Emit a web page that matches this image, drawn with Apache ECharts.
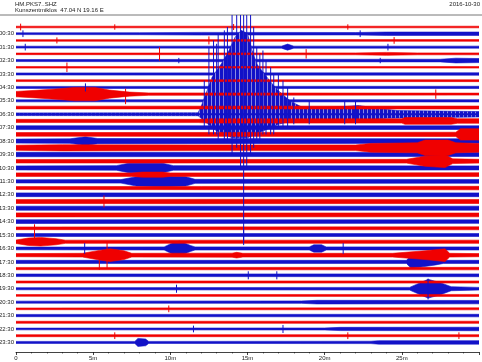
<!DOCTYPE html>
<html><head><meta charset="utf-8">
<script src="https://cdn.jsdelivr.net/npm/echarts@6/dist/echarts.min.js"></script>
<style>html,body{margin:0;padding:0;background:#fff}#c{width:482px;height:362px}</style>
</head><body><div id="c"></div>
<script>
// ---- text ----
const stationCode = 'HM.PKS7..SHZ';
const stationInfo = 'Kunszentmiklos  47.04 N 19.16 E';
const dateLabel = '2016-10-30';
// labels for odd traces (each trace = 30 min, label on the :30 ones)
const hourLabels = ['00:30','01:30','02:30','03:30','04:30','05:30','06:30','07:30','08:30','09:30','10:30','11:30',
  '12:30','13:30','14:30','15:30','16:30','17:30','18:30','19:30','20:30','21:30','22:30','23:30'];
const minuteTicks = [0, 5, 10, 15, 20, 25];
const traceColors = ['#f00000', '#1212c8']; // even, odd

// ---- envelopes: per trace, [minute, half amplitude in trace spacings] ----
const envelopes = [
/*00*/ [[0,0.12],[30,0.12]],
/*01*/ [[0,0.13],[8,0.15],[12,0.2],[22,0.18],[24,0.25],[30,0.25]],
/*02*/ [[0,0.12],[30,0.13]],
/*03*/ [[0,0.14],[17.2,0.15],[17.6,0.45],[18.0,0.15],[30,0.15]],
/*04*/ [[0,0.12],[22,0.14],[24,0.22],[26,0.14],[30,0.14]],
/*05*/ [[0,0.15],[27.5,0.2],[28.5,0.35],[30,0.3]],
/*06*/ [[0,0.12],[30,0.12]],
/*07*/ [[0,0.15],[30,0.18]],
/*08*/ [[0,0.13],[30,0.14]],
/*09*/ [[0,0.15],[30,0.17]],
/*10*/ [[0,0.4],[1.55,0.6],[2.8,0.8],[3.8,1.0],[5.1,1.0],[6.05,0.6],[7.35,0.3],[8.6,0.18],[30,0.15]],
/*11*/ [[0,0.15],[30,0.17]],
/*12*/ [[0,0.2],[30,0.22]],
/*13*/ [[0,0.2],[11.8,0.22],[12.0,1.2],[12.3,3],[12.7,5.5],[13.3,7.5],[13.8,9.5],[14.2,11.5],[14.6,12.5],[15.0,12],[15.3,9.5],[15.6,7.5],[16.0,6.3],[16.5,4.8],[17.0,3.5],[17.8,1.9],[18.5,1.1],[19.5,0.9],[21.0,1.1],[22.2,1.3],[23.4,0.9],[24.7,0.55],[30,0.4]],
/*14*/ [[0,0.24],[11.8,0.24],[12.5,0.32],[25,0.32],[25.2,0.5],[28.2,0.5],[28.6,0.34],[30,0.34]],
/*15*/ [[0,0.28],[30,0.27]],
/*16*/ [[0,0.27],[28.5,0.32],[28.8,0.85],[30,0.85]],
/*17*/ [[0,0.3],[3.5,0.34],[4.5,0.65],[5.3,0.38],[30,0.34]],
/*18*/ [[0,0.38],[3,0.46],[12,0.42],[22,0.42],[23,0.65],[26,0.75],[26.5,1.15],[28,1.15],[28.5,0.75],[30,0.65]],
/*19*/ [[0,0.33],[30,0.3]],
/*20*/ [[0,0.26],[25.3,0.28],[26.5,0.75],[27.8,0.95],[28.3,0.35],[30,0.28]],
/*21*/ [[0,0.3],[6.5,0.34],[7.3,0.7],[9.5,0.7],[10.2,0.34],[30,0.3]],
/*22*/ [[0,0.26],[7.5,0.26],[8.2,0.38],[9.5,0.38],[10,0.26],[30,0.28]],
/*23*/ [[0,0.24],[6.8,0.26],[7.8,0.7],[9.5,0.8],[11,0.7],[11.6,0.3],[30,0.28]],
/*24*/ [[0,0.22],[12,0.24],[30,0.26]],
/*25*/ [[0,0.28],[30,0.28]],
/*26*/ [[0,0.3],[12,0.33],[30,0.3]],
/*27*/ [[0,0.3],[30,0.3]],
/*28*/ [[0,0.3],[30,0.28]],
/*29*/ [[0,0.28],[30,0.26]],
/*30*/ [[0,0.2],[30,0.22]],
/*31*/ [[0,0.22],[30,0.22]],
/*32*/ [[0,0.26],[0.8,0.55],[1.6,0.65],[2.6,0.45],[3.2,0.24],[30,0.24]],
/*33*/ [[0,0.2],[9.6,0.23],[10.2,0.9],[10.6,1.1],[11.3,0.45],[11.6,0.23],[19.0,0.23],[19.3,0.55],[19.8,0.55],[20.1,0.23],[30,0.23]],
/*34*/ [[0,0.23],[4.3,0.28],[5.5,0.75],[6.1,0.95],[7.0,0.65],[7.5,0.28],[14,0.3],[14.3,0.42],[14.7,0.28],[24.4,0.28],[26.5,0.65],[27.8,0.95],[28.1,0.28],[30,0.23]],
/*35*/ [[0,0.23],[25.3,0.23],[25.6,0.95],[26.0,0.85],[27.2,0.45],[27.7,0.23],[30,0.23]],
/*36*/ [[0,0.17],[30,0.19]],
/*37*/ [[0,0.19],[30,0.21]],
/*38*/ [[0,0.15],[30,0.16]],
/*39*/ [[0,0.16],[25.5,0.2],[26.2,0.9],[26.7,1.4],[27.5,0.9],[28.2,0.3],[30,0.2]],
/*40*/ [[0,0.13],[30,0.15]],
/*41*/ [[0,0.15],[18.5,0.18],[19.5,0.27],[30,0.25]],
/*42*/ [[0,0.13],[30,0.15]],
/*43*/ [[0,0.17],[30,0.19]],
/*44*/ [[0,0.15],[30,0.16]],
/*45*/ [[0,0.13],[20,0.15],[21,0.24],[30,0.26]],
/*46*/ [[0,0.15],[30,0.15]],
/*47*/ [[0,0.15],[7.7,0.15],[7.9,0.6],[8.4,0.5],[8.6,0.15],[23,0.18],[23.5,0.26],[30,0.26]]
];
// lower side of the big earthquake trace (06:30)
const quakeTrace = 13;
const quakeLower = [[0,0.2],[11.8,0.22],[12.3,1.2],[13,2.5],[14,3.5],[15,3.5],[16,2.5],[17,1.5],[18,0.9],[20,0.8],[22,1.0],[24,0.6],[30,0.4]];

// isolated spikes: [trace, minute, up, down]
const spikes = [
  [0,0.3,0.5,0.5],[0,6.4,0.4,0.4],[0,14.1,0.45,0.45],[0,21.5,0.4,0.4],
  [1,0.45,0.5,0.5],[1,22.3,0.5,0.5],
  [2,2.65,0.45,0.45],[2,12.5,0.6,0.6],[2,24.5,0.5,0.5],
  [3,0.6,0.5,0.5],[3,24.1,0.5,0.5],
  [4,9.3,1.0,1.0],[4,18.8,0.7,0.7],
  [5,10.55,0.4,0.4],[5,23.6,0.4,0.4],
  [6,3.3,0.7,0.7],
  [9,4.5,0.6,0.6],
  [10,7.1,0.8,1.5],[10,27.2,0.7,0.7],
  [13,12.2,5,2],[13,12.5,10,3],[13,12.8,11,3],[13,13.0,10.5,3],[13,13.1,12,4],[13,13.5,12.5,4],
  [13,13.7,13,4],[13,14.0,16,6],[13,14.3,16,5],[13,14.55,16,8],[13,14.75,16,19.5],[13,14.95,16,8],
  [13,15.2,16,6],[13,15.4,13,5],[13,15.6,10,4],[13,15.8,9,4],[13,16.0,9.5,3],[13,16.2,8,3],
  [13,16.5,7,3],[13,16.7,6,3],[13,17.0,6,2],[13,17.3,5,2],[13,17.6,4,2],[13,18.0,2.5,1.5],
  [13,19.0,2,1.5],[13,21.3,2.0,1.5],[13,22.0,2.0,1.5],
  [26,5.7,0.9,0.9],
  [30,1.2,0.6,2.0],
  [31,14.75,0.8,0.8],
  [33,4.45,0.8,0.8],[33,21.2,0.8,0.8],
  [34,5.9,1.9,1.9],[34,5.4,0.5,2.2],
  [37,15.05,0.6,0.6],[37,16.9,0.6,0.6],
  [39,10.4,0.6,0.6],[39,26.7,1.5,1.6],
  [42,9.9,0.5,0.5],
  [45,11.5,0.5,0.5],[45,17.3,0.6,0.6],
  [46,6.4,0.5,0.5],[46,21.5,0.5,0.5],[46,28.7,0.5,0.5]
];

// ---- textured fill for the dense earthquake wiggles (style only) ----
const stripe = document.createElement('canvas');
stripe.width = 4; stripe.height = 1;
(function () {
  const g = stripe.getContext('2d');
  g.fillStyle = '#8c8ce0'; g.fillRect(0, 0, 4, 1);
  g.fillStyle = traceColors[1]; g.fillRect(0, 0, 3, 1);
})();

// ---- chart ----
const chart = echarts.init(document.getElementById('c'), null, {renderer: 'canvas'});
const traceCount = envelopes.length;
const colorOf = i => traceColors[i % 2];

function envRender(params, api) {
  const i = api.value(0);
  const up = envelopes[i];
  const low = i === quakeTrace ? quakeLower : up;
  const pts = [];
  up.forEach(p => pts.push(api.coord([p[0], -i + p[1]])));
  for (let k = low.length - 1; k >= 0; k--) pts.push(api.coord([low[k][0], -i - low[k][1]]));
  const c = colorOf(i);
  if (i === quakeTrace) {
    const a = api.coord([0, -i]), b = api.coord([30, -i]);
    return {type: 'group', children: [
      {type: 'polygon', shape: {points: pts}, style: {fill: {image: stripe, repeat: 'repeat'}, stroke: c, lineWidth: 0.6}},
      {type: 'line', shape: {x1: a[0], y1: a[1], x2: b[0], y2: b[1]}, style: {stroke: c, lineWidth: 2.2}}
    ]};
  }
  return {type: 'polygon', shape: {points: pts}, style: {fill: c, stroke: c, lineWidth: 0.6}};
}
function spikeRender(params, api) {
  const i = api.value(0), m = api.value(1), u = api.value(2), d = api.value(3);
  const a = api.coord([m, -i + u]), b = api.coord([m, -i - d]);
  return {type: 'line', shape: {x1: a[0], y1: a[1], x2: b[0], y2: b[1]}, style: {stroke: colorOf(i), lineWidth: 1}};
}
function labelRender(params, api) {
  const i = api.value(0);
  const p = api.coord([0, -i]);
  return {type: 'text', x: p[0] - 2, y: p[1], style: {text: hourLabels[(i - 1) / 2], fill: '#222', fontSize: 6, fontFamily: 'Liberation Sans', align: 'right', verticalAlign: 'middle'}};
}

const idx = Array.from({length: traceCount}, (_, i) => i);
const blueData = idx.filter(i => i % 2 === 1).map(i => [i]);
const redData = idx.filter(i => i % 2 === 0).map(i => [i]);

chart.setOption({
  animation: false,
  backgroundColor: '#fff',
  grid: {left: 16, right: 0, top: 15, bottom: 10},
  xAxis: {
    type: 'value', min: 0, max: 30, interval: 5,
    axisLine: {onZero: false, lineStyle: {color: '#111', width: 0.8}},
    axisTick: {length: 3, lineStyle: {color: '#111', width: 0.8}},
    minorTick: {show: true, splitNumber: 5, length: 1.5, lineStyle: {color: '#111', width: 0.6}},
    splitLine: {show: false},
    axisLabel: {fontSize: 6, fontFamily: 'Liberation Sans', color: '#222', margin: 3,
      formatter: v => minuteTicks.indexOf(v) < 0 ? '' : (v === 0 ? '0' : v + 'm')}
  },
  yAxis: {type: 'value', min: -48.43, max: 1.79, show: false, splitLine: {show: false}},
  graphic: [
    {type: 'line', shape: {x1: 0, y1: 15, x2: 482, y2: 15}, style: {stroke: '#777', lineWidth: 1}},
    {type: 'text', left: 15, top: 1, style: {text: stationCode, fontSize: 6, fontFamily: 'Liberation Sans', fill: '#222'}},
    {type: 'text', left: 15, top: 7, style: {text: stationInfo, fontSize: 6, fontFamily: 'Liberation Sans', fill: '#222'}},
    {type: 'text', right: 2, top: 1, style: {text: dateLabel, fontSize: 6, fontFamily: 'Liberation Sans', fill: '#222'}}
  ],
  series: [
    {type: 'custom', coordinateSystem: 'cartesian2d', clip: true, renderItem: envRender, data: blueData, silent: true},
    {type: 'custom', coordinateSystem: 'cartesian2d', clip: true, renderItem: envRender, data: redData, silent: true},
    {type: 'custom', coordinateSystem: 'cartesian2d', clip: true, renderItem: spikeRender, data: spikes, silent: true},
    {type: 'custom', coordinateSystem: 'cartesian2d', clip: false, renderItem: labelRender, data: blueData, silent: true}
  ]
});
</script></body></html>
